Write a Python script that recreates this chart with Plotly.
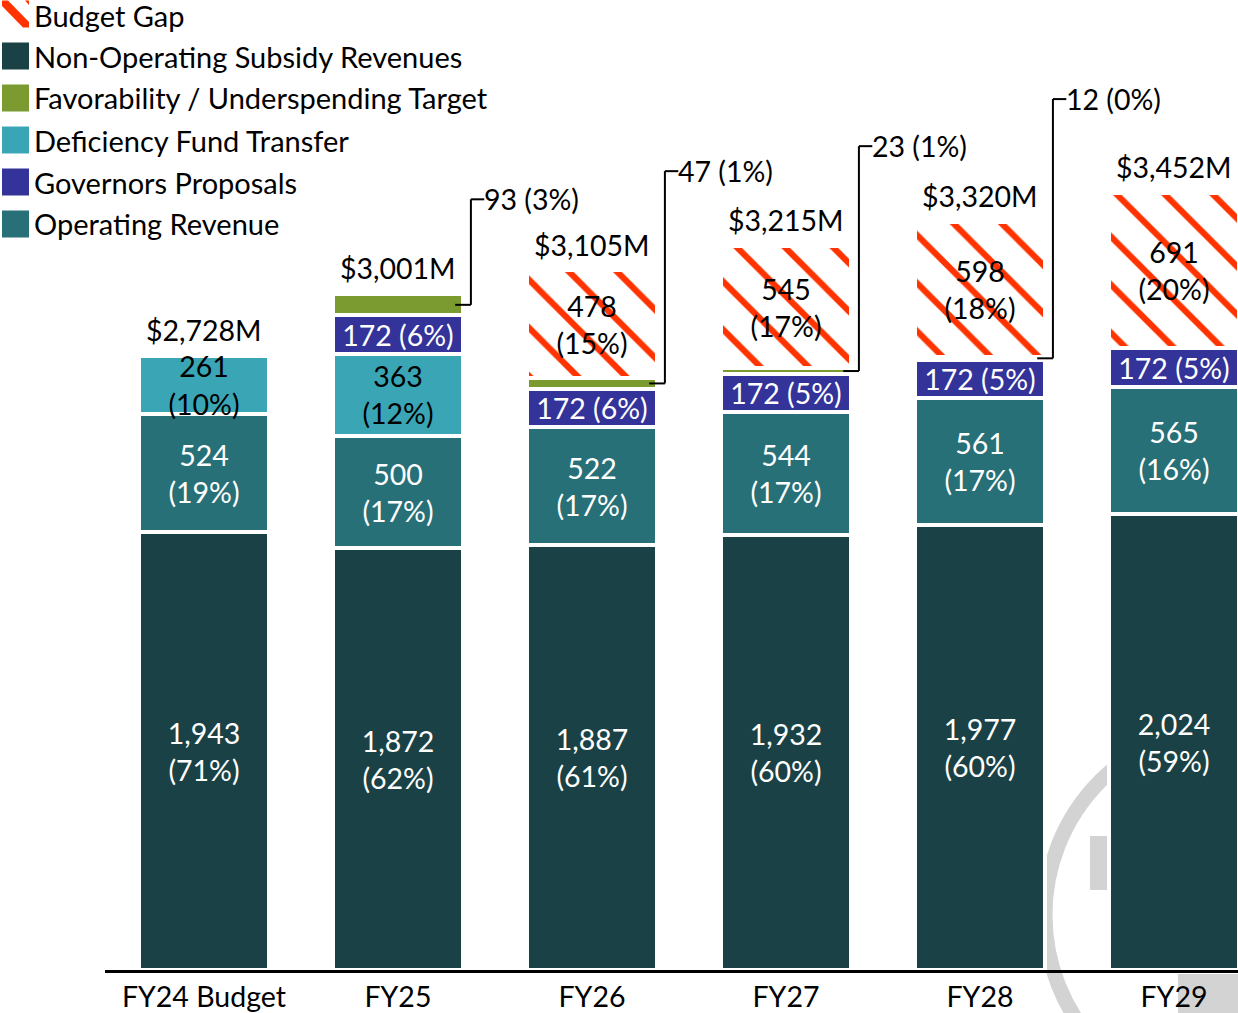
import plotly.graph_objects as go

categories = ["FY24 Budget", "FY25", "FY26", "FY27", "FY28", "FY29"]
totals = [2728, 3001, 3105, 3215, 3320, 3452]

non_operating = [1943, 1872, 1887, 1932, 1977, 2024]
non_operating_pct = [71, 62, 61, 60, 60, 59]
operating = [524, 500, 522, 544, 561, 565]
operating_pct = [19, 17, 17, 17, 17, 16]
deficiency = [261, 363, None, None, None, None]
deficiency_pct = [10, 12, None, None, None, None]
governors = [None, 172, 172, 172, 172, 172]
governors_pct = [None, 6, 6, 5, 5, 5]
favorability = [None, 93, 47, 23, 12, None]
favorability_pct = [None, 3, 1, 1, 0, None]
budget_gap = [None, None, 478, 545, 598, 691]
budget_gap_pct = [None, None, 15, 17, 18, 20]

legend_names = ["Budget Gap", "Non-Operating Subsidy Revenues",
                "Favorability / Underspending Target", "Deficiency Fund Transfer",
                "Governors Proposals", "Operating Revenue"]

# layout-only offsets for the favourability callout labels (data units above total)
callout_label_offset = [None, 421, 442, 443, 547, None]

FONT = "Lato"
FS = 28.5
LFS = 29
BAR_W = 0.67
C_NONOP = "#1a4246"
C_OPER = "#277077"
C_DEFIC = "#3aa6b5"
C_GOV = "#333399"
C_FAV = "#7b9a2f"
C_GAP = "#ff3300"
x = list(range(len(categories)))


def two_line(vals, pcts):
    return [f"{v:,}<br>({p}%)" if v is not None else "" for v, p in zip(vals, pcts)]


def one_line(vals, pcts):
    return [f"{v:,} ({p}%)" if v is not None else "" for v, p in zip(vals, pcts)]


fig = go.Figure()

common = dict(width=BAR_W, textposition="inside", insidetextanchor="middle",
              textangle=0, constraintext="none", cliponaxis=False, showlegend=False,
              hoverinfo="skip")
outline = dict(color="white", width=4)

fig.add_trace(go.Bar(x=x, y=non_operating, name=legend_names[1],
                     marker=dict(color=C_NONOP, line=outline),
                     text=two_line(non_operating, non_operating_pct),
                     textfont=dict(color="white", size=FS, family=FONT), **common))
fig.add_trace(go.Bar(x=x, y=operating, name=legend_names[5],
                     marker=dict(color=C_OPER, line=outline),
                     text=two_line(operating, operating_pct),
                     textfont=dict(color="white", size=FS, family=FONT), **common))
fig.add_trace(go.Bar(x=x, y=deficiency, name=legend_names[3],
                     marker=dict(color=C_DEFIC, line=outline),
                     text=two_line(deficiency, deficiency_pct),
                     textfont=dict(color="black", size=FS, family=FONT), **common))
fig.add_trace(go.Bar(x=x, y=governors, name=legend_names[4],
                     marker=dict(color=C_GOV, line=outline),
                     text=one_line(governors, governors_pct),
                     textfont=dict(color="white", size=FS, family=FONT), **common))
fig.add_trace(go.Bar(x=x, y=favorability, name=legend_names[2],
                     marker=dict(color=C_FAV, line=outline), **common))
fig.add_trace(go.Bar(x=x, y=budget_gap, name=legend_names[0],
                     marker=dict(color="white", line=outline,
                                 pattern=dict(shape="\\", fgcolor=C_GAP, bgcolor="white",
                                              size=34, solidity=0.18, fillmode="replace")),
                     text=two_line(budget_gap, budget_gap_pct),
                     textfont=dict(color="black", size=FS, family=FONT), **common))

# total labels
for i, t in enumerate(totals):
    fig.add_annotation(x=i, y=t, text=f"${t:,}M", showarrow=False, yanchor="bottom",
                       yshift=7, font=dict(size=FS, family=FONT, color="black"))

# favourability callouts
for i in range(len(categories)):
    f = favorability[i]
    if f is None:
        continue
    base = non_operating[i] + operating[i] + (deficiency[i] or 0) + (governors[i] or 0)
    y_mid = base + f / 2
    y_lab = totals[i] + callout_label_offset[i]
    x_in = i + BAR_W / 2 - 0.04
    x_elb = i + 0.376
    x_end = i + 0.445
    line = dict(color="black", width=2)
    fig.add_shape(type="line", x0=x_in, x1=x_elb, y0=y_mid, y1=y_mid, line=line)
    fig.add_shape(type="line", x0=x_elb, x1=x_elb, y0=y_mid, y1=y_lab, line=line)
    fig.add_shape(type="line", x0=x_elb, x1=x_end, y0=y_lab, y1=y_lab, line=line)
    fig.add_annotation(x=x_end, y=y_lab, text=f"{f} ({favorability_pct[i]}%)", showarrow=False,
                       xanchor="left", yanchor="middle", xshift=-2,
                       font=dict(size=FS, family=FONT, color="black"))

# pixel -> paper helpers (plot area: left 105, width 1133, bottom 970, height 970)
W, L, PB = 1133, 105, 970
def px(v):
    return (v - L) / W
def py(v):
    return (PB - v) / PB

# faint watermark
fig.add_shape(type="circle", xref="paper", yref="paper", layer="below",
              x0=px(1045), x1=px(1425), y0=py(725), y1=py(1105),
              line=dict(color="#d3d3d3", width=15))
fig.add_shape(type="rect", xref="paper", yref="paper", layer="below",
              x0=px(1090), x1=px(1107), y0=py(836), y1=py(890),
              fillcolor="#d3d3d3", line_width=0)
fig.add_shape(type="rect", xref="paper", yref="paper", layer="below",
              x0=px(1178), x1=px(1240), y0=py(974), y1=py(1015),
              fillcolor="#d3d3d3", line_width=0)

# custom legend (swatch + label), 42 px per row
legend_colors = [None, C_NONOP, C_FAV, C_DEFIC, C_GOV, C_OPER]
for k, (name, col) in enumerate(zip(legend_names, legend_colors)):
    cy = 14 + 42 * k
    ty = cy + (1.5 if k == 0 else 0)
    if col is None:
        band = (f"M {px(2)},{py(cy - 13.5)} L {px(8)},{py(cy - 13.5)} "
                f"L {px(29)},{py(cy + 8)} L {px(29)},{py(cy + 13.5)} "
                f"L {px(23)},{py(cy + 13.5)} L {px(2)},{py(cy - 8)} Z")
        fig.add_shape(type="path", xref="paper", yref="paper", path=band,
                      fillcolor=C_GAP, line_width=0)
        corner = (f"M {px(25)},{py(cy - 13.5)} L {px(29)},{py(cy - 13.5)} "
                  f"L {px(29)},{py(cy - 9)} Z")
        fig.add_shape(type="path", xref="paper", yref="paper", path=corner,
                      fillcolor=C_GAP, line_width=0)
    else:
        fig.add_shape(type="rect", xref="paper", yref="paper",
                      x0=px(2), x1=px(29), y0=py(cy - 13.5), y1=py(cy + 13.5),
                      fillcolor=col, line_width=0)
    fig.add_annotation(xref="paper", yref="paper", x=px(32), y=py(ty), text=name,
                       showarrow=False, xanchor="left", yanchor="middle",
                       font=dict(size=LFS, family=FONT, color="black"))

fig.update_layout(
    width=1238, height=1013,
    margin=dict(l=105, r=0, t=0, b=43, autoexpand=False),
    barmode="stack",
    plot_bgcolor="rgba(0,0,0,0)", paper_bgcolor="white",
    font=dict(family=FONT, size=FS, color="black"),
    showlegend=False,
    xaxis=dict(tickvals=x, ticktext=categories, range=[-0.51, 5.33],
               showline=True, linecolor="black", linewidth=3, showgrid=False,
               zeroline=False, ticks="", automargin=False,
               tickfont=dict(size=FS, family=FONT, color="black")),
    yaxis=dict(range=[0, 4307], visible=False, showgrid=False, zeroline=False),
)

fig.write_html("out.html", config={"displayModeBar": False},
               post_script="document.body.style.margin='0';document.body.style.overflow='hidden';")
